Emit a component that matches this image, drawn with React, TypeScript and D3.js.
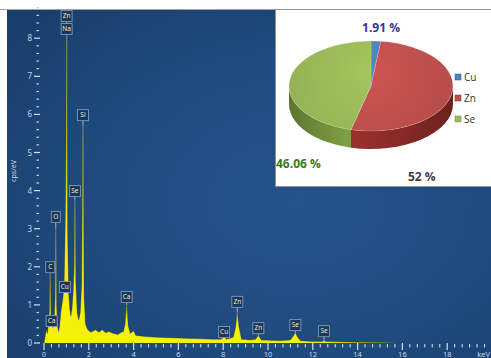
import React from "react";
import * as d3 from "d3";

const W = 491;
const H = 358;

// EDS spectrum samples: energy (keV) and intensity (cps/eV)
const energyKeV = [
  0.0, 0.05, 0.1, 0.15, 0.2, 0.25, 0.28, 0.31, 0.35, 0.4, 0.45, 0.5, 0.53, 0.56, 0.6, 0.65, 0.7,
  0.75, 0.8, 0.85, 0.9, 0.93, 0.97, 1.01, 1.05, 1.1, 1.15, 1.2, 1.25, 1.3, 1.35, 1.38, 1.42, 1.48,
  1.55, 1.62, 1.68, 1.74, 1.79, 1.85, 1.95, 2.1, 2.3, 2.45, 2.6, 2.75, 2.9, 3.1, 3.3, 3.45, 3.55,
  3.62, 3.69, 3.76, 3.85, 4.0, 4.1, 4.5, 5.0, 5.5, 6.0, 6.5, 7.0, 7.5, 7.9, 8.04, 8.15, 8.45, 8.55,
  8.63, 8.71, 8.82, 9.2, 9.45, 9.57, 9.7, 10.5, 11.0, 11.12, 11.22, 11.32, 11.45, 12.0, 12.4, 12.5,
  12.6, 13.0, 14.0, 15.0, 15.8,
];
const cpsPerEV = [
  0.0, 0.15, 0.35, 0.25, 0.5, 0.9, 1.9, 0.7, 0.55, 0.4, 0.5, 1.2, 3.0, 1.0, 0.45, 0.3, 0.45,
  0.8, 1.0, 1.2, 1.6, 2.4, 4.0, 8.1, 3.0, 1.3, 0.9, 0.7, 0.9, 1.3, 2.0, 3.75, 1.6, 0.8,
  0.6, 0.8, 1.5, 5.7, 1.2, 0.5, 0.35, 0.28, 0.35, 0.28, 0.35, 0.27, 0.3, 0.25, 0.22, 0.28, 0.3,
  0.5, 1.0, 0.45, 0.25, 0.32, 0.2, 0.17, 0.15, 0.14, 0.13, 0.12, 0.11, 0.1, 0.1, 0.16, 0.1, 0.15, 0.4,
  0.81, 0.4, 0.1, 0.08, 0.1, 0.2, 0.08, 0.06, 0.08, 0.18, 0.27, 0.16, 0.06, 0.04, 0.04, 0.06,
  0.04, 0.03, 0.02, 0.01, 0.0,
];

// Peak identification markers: element, line energy (keV), marker level (cps/eV)
const peakNames = ["Zn", "Na", "Si", "Se", "O", "C", "Cu", "Ca", "Ca", "Cu", "Zn", "Zn", "Se", "Se"];
const peakEnergies = [1.01, 1.01, 1.74, 1.38, 0.525, 0.277, 0.93, 0.34, 3.69, 8.04, 8.63, 9.57, 11.22, 12.5];
const peakLevels = [8.58, 8.24, 5.98, 3.99, 3.31, 1.99, 1.47, 0.58, 1.21, 0.29, 1.08, 0.39, 0.47, 0.31];

// Axis ticks
const xMajorTicks = [0, 2, 4, 6, 8, 10, 12, 14, 16, 18];
const yMajorTicks = [0, 1, 2, 3, 4, 5, 6, 7, 8];

// Composition inset
const phaseNames = ["Cu", "Zn", "Se"];
const phaseShares = [1.91, 52, 46.06];
const phaseLabels = ["1.91 %", "52 %", "46.06 %"];
const phaseTop = ["#4f81bd", "#c0504d", "#9bbb59"];
const phaseSide = ["#2f5a8f", "#8a2b28", "#6f8c3a"];

export default function App() {
  const x = d3.scaleLinear().domain([0, 20]).range([44, 492]);
  const y = d3.scaleLinear().domain([0, 8]).range([343, 38.2]);

  const pts = energyKeV.map((e, i) => [e, cpsPerEV[i]] as [number, number]);
  const area = d3
    .area<[number, number]>()
    .x((d) => x(d[0]))
    .y0(y(0))
    .y1((d) => y(d[1]));
  const line = d3
    .line<[number, number]>()
    .x((d) => x(d[0]))
    .y((d) => y(d[1]));

  const xMinor = d3.range(0, 20.001, 1 / 3).filter((v) => Math.abs(v / 2 - Math.round(v / 2)) > 1e-6);
  const yMinor = d3.range(0, 8.81, 0.2).filter((v) => Math.abs(v - Math.round(v)) > 1e-6);

  // 3-D pie geometry
  const cx = 371, cy = 86, rx = 82, ry = 45, depth = 18;
  const pt = (a: number, dy = 0) => [cx + rx * Math.sin(a), cy - ry * Math.cos(a) + dy];
  const f = (p: number[]) => `${p[0].toFixed(2)},${p[1].toFixed(2)}`;
  const arcs = d3.pie<number>().sort(null).value((d) => d)(phaseShares);

  const topPath = (a0: number, a1: number) =>
    `M${cx},${cy} L${f(pt(a0))} A${rx},${ry} 0 ${a1 - a0 > Math.PI ? 1 : 0} 1 ${f(pt(a1))} Z`;
  const wallPath = (a0: number, a1: number) => {
    const b0 = Math.max(a0, Math.PI / 2);
    const b1 = Math.min(a1, (3 * Math.PI) / 2);
    if (b1 <= b0) return null;
    return `M${f(pt(b0))} A${rx},${ry} 0 0 1 ${f(pt(b1))} L${f(pt(b1, depth))} A${rx},${ry} 0 0 0 ${f(pt(b0, depth))} Z`;
  };

  const labelPos = [
    { x: 381, y: 32, anchor: "middle", color: "#2d3b8e" },
    { x: 408, y: 181, anchor: "start", color: "#404040" },
    { x: 276, y: 168, anchor: "start", color: "#3c7a22" },
  ];

  return (
    <div style={{ position: "fixed", left: 0, top: 0, width: W, height: H }}>
      <svg width={W} height={H} viewBox={`0 0 ${W} ${H}`} style={{ display: "block" }}>
        <defs>
          <radialGradient id="bg" cx="60%" cy="55%" r="75%">
            <stop offset="0%" stopColor="#25528a" />
            <stop offset="60%" stopColor="#1f4a7d" />
            <stop offset="100%" stopColor="#1a3e6c" />
          </radialGradient>
          <clipPath id="plotClip">
            <rect x={7} y={10} width={W} height={333} />
          </clipPath>
          {phaseNames.map((n, i) => (
            <radialGradient key={n} id={`top-${n}`} cx={cx} cy={cy - 15} r={rx} gradientUnits="userSpaceOnUse">
              <stop offset="0%" stopColor={d3.color(phaseTop[i])!.brighter(0.15).formatHex()} />
              <stop offset="100%" stopColor={d3.color(phaseTop[i])!.darker(0.12).formatHex()} />
            </radialGradient>
          ))}
          {phaseNames.map((n, i) => (
            <linearGradient key={n} id={`side-${n}`} x1={cx - rx} x2={cx + rx} y1={0} y2={0} gradientUnits="userSpaceOnUse">
              <stop offset="0%" stopColor={d3.color(phaseSide[i])!.darker(0.5).formatHex()} />
              <stop offset="35%" stopColor={d3.color(phaseSide[i])!.brighter(0.35).formatHex()} />
              <stop offset="65%" stopColor={phaseSide[i]} />
              <stop offset="100%" stopColor={d3.color(phaseSide[i])!.darker(0.7).formatHex()} />
            </linearGradient>
          ))}
        </defs>

        <rect x={0} y={0} width={W} height={H} fill="#ffffff" />
        <rect x={7} y={10} width={W - 7} height={H - 10} fill="url(#bg)" />
        <line x1={0} x2={W} y1={9.5} y2={9.5} stroke="#a0a4aa" strokeWidth={1} />

        {/* y axis */}
        <g fontFamily="'Noto Sans', sans-serif" fontSize={8} fill="#c9d5e4">
          {yMajorTicks.map((t) => (
            <g key={t}>
              <line x1={34} x2={40} y1={y(t)} y2={y(t)} stroke="#d6e0ec" strokeWidth={1.2} />
              <text x={32} y={y(t) + 3} textAnchor="end">{t}</text>
            </g>
          ))}
          {yMinor.map((t) => (
            <line key={t} x1={36.5} x2={39} y1={y(t)} y2={y(t)} stroke="#c9d5e4" strokeWidth={1.2} />
          ))}
          <text transform={`translate(16,171) rotate(-90)`} textAnchor="middle" fontSize={7}>cps/eV</text>
        </g>

        {/* x axis */}
        <g fontFamily="'Noto Sans', sans-serif" fontSize={7.5} fill="#c9d5e4">
          {xMajorTicks.map((t) => (
            <g key={t}>
              <line x1={x(t)} x2={x(t)} y1={343} y2={350} stroke="#d6e0ec" strokeWidth={1.2} />
              <text x={x(t)} y={356.5} textAnchor="middle">{t}</text>
            </g>
          ))}
          {xMinor.map((t) => (
            <line key={t} x1={x(t)} x2={x(t)} y1={344} y2={347.5} stroke="#c9d5e4" strokeWidth={1.1} />
          ))}
          <text x={W - 1} y={356.5} textAnchor="end">keV</text>
        </g>

        {/* peak marker stems */}
        <g clipPath="url(#plotClip)">
          {peakNames.map((n, i) => (
            <line
              key={i}
              x1={x(peakEnergies[i])}
              x2={x(peakEnergies[i])}
              y1={y(peakLevels[i]) + 5.5}
              y2={y(0)}
              stroke="#aebcc6"
              strokeWidth={0.9}
            />
          ))}
        </g>

        {/* spectrum */}
        <g clipPath="url(#plotClip)">
          <path d={area(pts)!} fill="#f4f20c" />
          <path d={line(pts)!} fill="none" stroke="#2e2e14" strokeWidth={0.6} strokeOpacity={0.55} />
        </g>

        {/* peak marker boxes */}
        <g fontFamily="'Noto Sans', sans-serif" fontSize={6.5}>
          {peakNames.map((n, i) => {
            const w = n.length > 1 ? 11 : 9;
            const bx = x(peakEnergies[i]);
            const by = y(peakLevels[i]);
            return (
              <g key={i}>
                <rect x={bx - w / 2} y={by - 5.5} width={w} height={11} fill="#1b3657" stroke="#7a9cc0" strokeWidth={0.9} />
                <text x={bx} y={by + 2.3} textAnchor="middle" fill="#f2efc8">{n}</text>
              </g>
            );
          })}
        </g>

        {/* composition inset */}
        <rect x={275.5} y={9.5} width={W - 275} height={177} fill="#ffffff" stroke="#8e9296" strokeWidth={1} />
        <g>
          {arcs.map((a, i) => {
            const p = wallPath(a.startAngle, a.endAngle);
            return p ? <path key={`w${i}`} d={p} fill={`url(#side-${phaseNames[i]})`} /> : null;
          })}
          {arcs.map((a, i) => (
            <path
              key={`t${i}`}
              d={topPath(a.startAngle, a.endAngle)}
              fill={`url(#top-${phaseNames[i]})`}
              stroke="#ffffff"
              strokeOpacity={0.35}
              strokeWidth={0.5}
            />
          ))}
        </g>
        <g fontFamily="'Open Sans', sans-serif" fontWeight="bold" fontSize={12}>
          {phaseLabels.map((l, i) => (
            <text key={l} x={labelPos[i].x} y={labelPos[i].y} textAnchor={labelPos[i].anchor as any} fill={labelPos[i].color}>
              {l}
            </text>
          ))}
        </g>
        <g fontFamily="'Open Sans', sans-serif" fontSize={10} fill="#333333">
          {phaseNames.map((n, i) => (
            <g key={n}>
              <rect x={455} y={74 + i * 21} width={6} height={6} fill={phaseTop[i]} stroke={phaseSide[i]} strokeWidth={0.5} />
              <text x={464} y={81 + i * 21}>{n}</text>
            </g>
          ))}
        </g>
        <rect x={0} y={10} width={7} height={H - 10} fill="#ffffff" />
      </svg>
    </div>
  );
}
